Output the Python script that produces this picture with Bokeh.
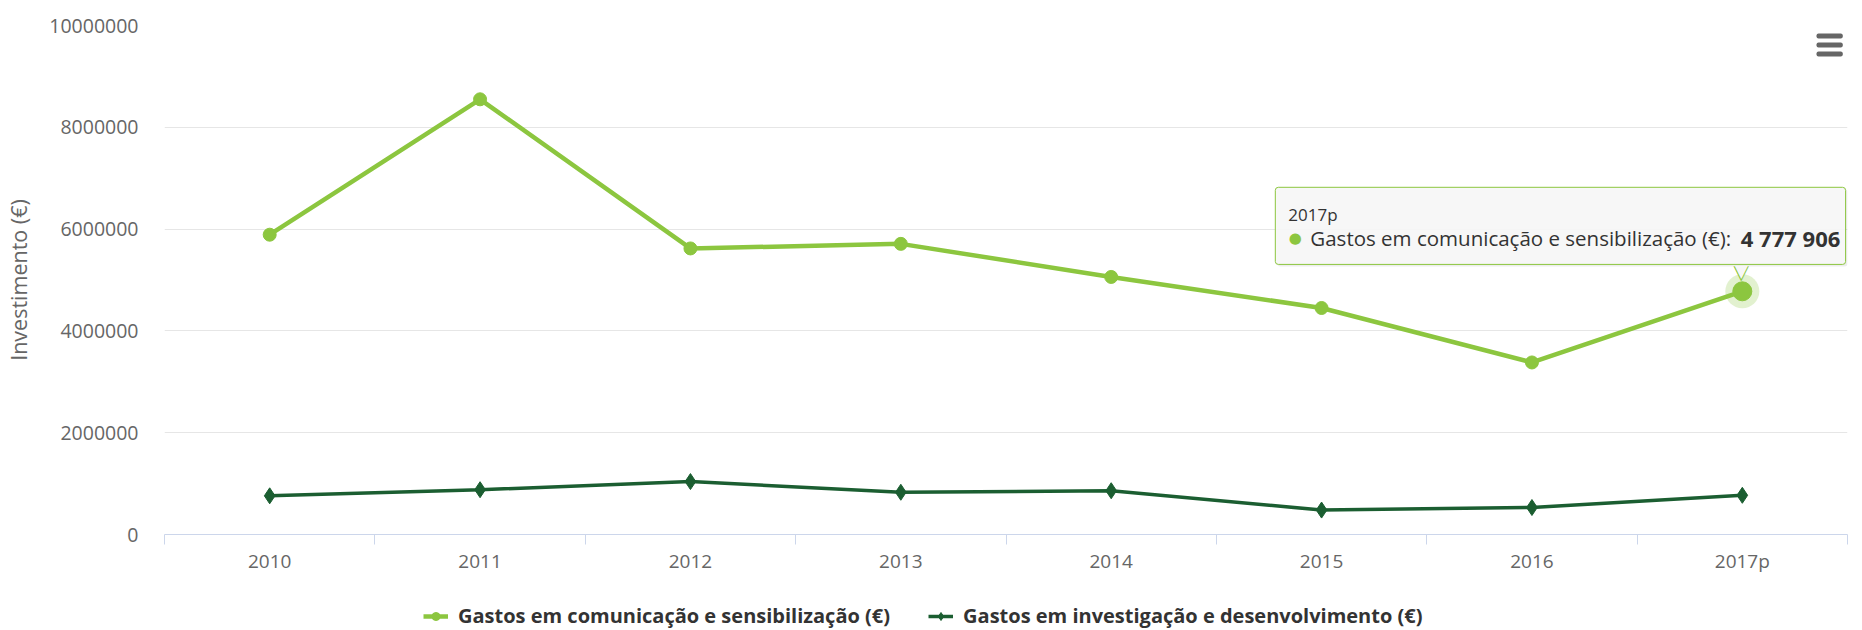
from bokeh.plotting import figure
from bokeh.layouts import column
from bokeh.models import Range1d, FixedTicker, NumeralTickFormatter, Legend, LegendItem, Label
from bokeh.embed import file_html
from bokeh.resources import INLINE

categories = ["2010", "2011", "2012", "2013", "2014", "2015", "2016", "2017p"]
comunicacao = [5890000, 8550000, 5620000, 5710000, 5060000, 4450000, 3380000, 4777906]
investigacao = [760000, 880000, 1040000, 830000, 860000, 480000, 530000, 770000]
series_names = ["Gastos em comunicação e sensibilização (€)",
                "Gastos em investigação e desenvolvimento (€)"]
y_ticks = [0, 2000000, 4000000, 6000000, 8000000, 10000000]
y_title = "Investimento (€)"

LIGHT = "#8cc63f"
DARK = "#1b5e31"
FONT = "Open Sans"
LABEL_C = "#666666"
TEXT_C = "#333333"

xs = list(range(len(categories)))

p = figure(width=1862, height=582, output_backend="svg", toolbar_location=None,
           x_range=Range1d(-0.5, len(categories) - 0.5),
           y_range=Range1d(y_ticks[0], y_ticks[-1]),
           min_border_left=164, min_border_right=15, min_border_top=25, min_border_bottom=48)
p.outline_line_color = None
p.background_fill_color = "white"
p.border_fill_color = "white"

# grid
yt = FixedTicker(ticks=y_ticks)
p.yaxis.ticker = yt
p.ygrid.ticker = yt
p.ygrid.grid_line_color = "#e6e6e6"
p.ygrid.grid_line_width = 1
p.xgrid.visible = False

# y axis
p.yaxis.formatter = NumeralTickFormatter(format="0")
p.yaxis.axis_line_color = None
p.yaxis.major_tick_line_color = None
p.yaxis.minor_tick_line_color = None
p.yaxis.major_tick_out = 0
p.yaxis.major_tick_in = 0
p.yaxis.minor_tick_out = 0
p.yaxis.major_label_standoff = 26
p.yaxis.major_label_text_font = FONT
p.yaxis.major_label_text_font_size = "19.5px"
p.yaxis.major_label_text_color = LABEL_C
p.yaxis.axis_label = y_title
p.yaxis.axis_label_text_font = FONT
p.yaxis.axis_label_text_font_size = "21.5px"
p.yaxis.axis_label_text_font_style = "normal"
p.yaxis.axis_label_text_color = LABEL_C
p.yaxis.axis_label_standoff = 13

# x axis (labels at category centres, ticks between categories)
p.xaxis.ticker = FixedTicker(ticks=xs, minor_ticks=[i - 0.5 for i in range(len(categories) + 1)])
p.xaxis.major_label_overrides = {i: c for i, c in zip(xs, categories)}
p.xaxis.axis_line_color = "#ccd6eb"
p.xaxis.axis_line_width = 1
p.xaxis.major_tick_line_color = None
p.xaxis.major_tick_out = 0
p.xaxis.major_tick_in = 0
p.xaxis.minor_tick_line_color = "#ccd6eb"
p.xaxis.minor_tick_out = 10
p.xaxis.minor_tick_in = 0
p.xaxis.major_label_standoff = 3
p.xaxis.major_label_text_font = FONT
p.xaxis.major_label_text_font_size = "19px"
p.xaxis.major_label_text_color = LABEL_C

# series
p.line(xs, comunicacao, line_color=LIGHT, line_width=4.5)
p.scatter(xs, comunicacao, marker="circle", size=13, fill_color=LIGHT, line_color=LIGHT)
p.line(xs, investigacao, line_color=DARK, line_width=3.5)
p.scatter(xs, investigacao, marker="diamond", size=16, fill_color=DARK, line_color=DARK)

# hovered point (last point of first series)
p.scatter([xs[-1]], [comunicacao[-1]], marker="circle", size=34, fill_color=LIGHT,
          fill_alpha=0.25, line_color=None)
p.scatter([xs[-1]], [comunicacao[-1]], marker="circle", size=19, fill_color=LIGHT,
          line_color=LIGHT)

# tooltip
tx, ty = xs[-1], comunicacao[-1]
value_txt = f"{comunicacao[-1]:,}".replace(",", " ")

shadow = Label(x=tx, y=ty, x_offset=-465, y_offset=102, text=" ", text_font_size="1px",
               anchor="top_left", background_fill_color="black", background_fill_alpha=0.07,
               padding=(0, 570, 76, 0), border_radius=3)
box = Label(x=tx, y=ty, x_offset=-467, y_offset=104, text=" ", text_font_size="1px",
            anchor="top_left", background_fill_color="#f7f7f7", background_fill_alpha=0.92,
            border_line_color=LIGHT, border_line_width=1,
            padding=(0, 570, 76, 0), border_radius=3)
ptr_out = Label(x=tx, y=ty, x_offset=-1, y_offset=31, text="▼", anchor="top_center",
                text_font="DejaVu Sans", text_font_size="20px", text_color=LIGHT)
ptr_in = Label(x=tx, y=ty, x_offset=-1, y_offset=30, text="▼", anchor="top_center",
               text_font="DejaVu Sans", text_font_size="17px", text_color="#f7f7f7")
header = Label(x=tx, y=ty, x_offset=-454, y_offset=77, text=categories[-1], anchor="center_left",
               text_font=FONT, text_font_size="17px", text_color=TEXT_C)
bullet = Label(x=tx, y=ty, x_offset=-447, y_offset=53, text="●", anchor="center",
               text_font="DejaVu Sans", text_font_size="15px", text_color=LIGHT)
body = Label(x=tx, y=ty, x_offset=-432, y_offset=53, text=series_names[0] + ": ",
             anchor="center_left", text_font=FONT, text_font_size="20.5px", text_color=TEXT_C)
val = Label(x=tx, y=ty, x_offset=98, y_offset=53, text=value_txt, anchor="center_right",
            text_font=FONT, text_font_size="22px", text_font_style="bold", text_color=TEXT_C)
for a in (shadow, box, ptr_out, ptr_in, header, bullet, body, val):
    p.add_layout(a)

# menu icon (three rounded bars)
for yb in (501, 492, 483):
    p.add_layout(Label(x=1652, y=yb, x_units="screen", y_units="screen", text=" ",
                       text_font_size="1px", anchor="top_left",
                       background_fill_color="#666666", border_radius=2,
                       padding=(0, 26, 4, 0)))

# legend strip below the chart (its frame is aligned with the chart's frame)
pl = figure(width=1862, height=48, output_backend="svg", toolbar_location=None,
            x_axis_location=None, y_axis_location=None, min_border=0,
            x_range=Range1d(0, 1), y_range=Range1d(-2, -1))
pl.outline_line_color = None
pl.xgrid.visible = False
pl.ygrid.visible = False
# legend-glyph renderers (their data lie outside this strip's range, so only the legend shows)
g1l = pl.line(xs, comunicacao, line_color=LIGHT, line_width=4.5)
g1s = pl.scatter(xs, comunicacao, marker="circle", size=13, fill_color=LIGHT, line_color=LIGHT)
g2l = pl.line(xs, investigacao, line_color=DARK, line_width=3.5)
g2s = pl.scatter(xs, investigacao, marker="diamond", size=16, fill_color=DARK, line_color=DARK)
legend = Legend(items=[LegendItem(label=series_names[0], renderers=[g1l, g1s]),
                       LegendItem(label=series_names[1], renderers=[g2l, g2s])],
                orientation="horizontal", location=(259, 1),
                padding=0, margin=0, spacing=38, label_standoff=10,
                glyph_width=25, glyph_height=20,
                border_line_color=None, background_fill_alpha=0,
                label_text_font=FONT, label_text_font_size="20px",
                label_text_font_style="bold", label_text_color=TEXT_C)
pl.add_layout(legend)

layout = column(p, pl, spacing=0)
open("out.html", "w").write(file_html(layout, INLINE))
